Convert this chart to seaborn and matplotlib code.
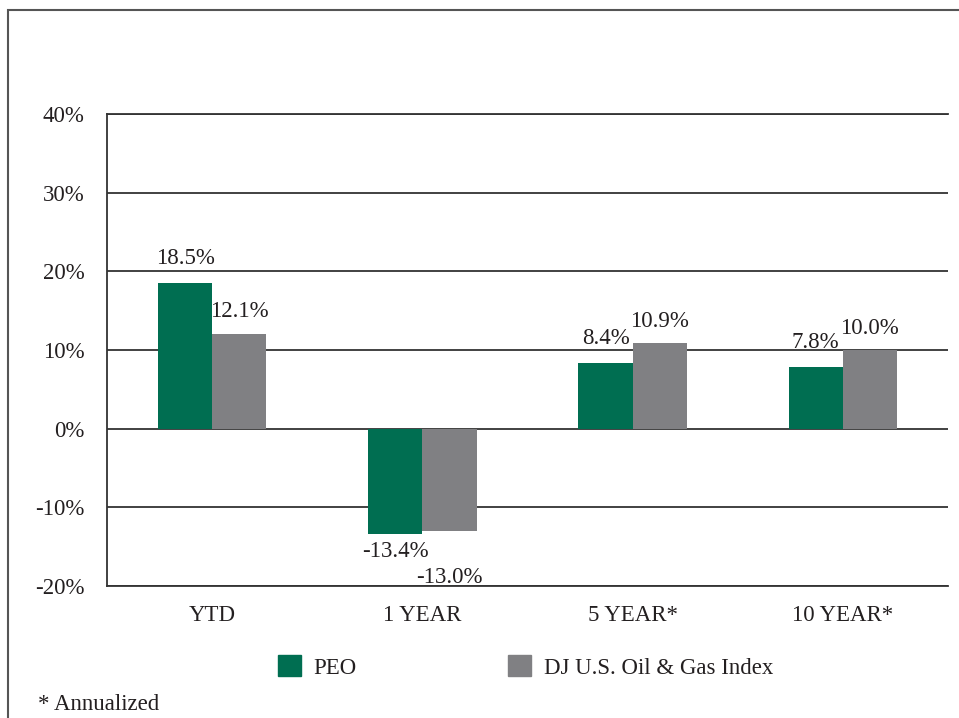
import numpy as np
import pandas as pd
import seaborn as sns
import matplotlib.pyplot as plt
from matplotlib.patches import Rectangle

periods = ['YTD', '1 YEAR', '5 YEAR*', '10 YEAR*']
series_names = ['PEO', 'DJ U.S. Oil & Gas Index']
peo = [18.5, -13.4, 8.4, 7.8]
dj_index = [12.1, -13.0, 10.9, 10.0]
y_ticks = [-20, -10, 0, 10, 20, 30, 40]

df = pd.DataFrame({
    'Period': periods * 2,
    'Series': [series_names[0]] * 4 + [series_names[1]] * 4,
    'Return': peo + dj_index,
})

sns.set_style('white')
plt.rcParams['font.family'] = ['Liberation Serif', 'DejaVu Serif']
plt.rcParams['font.size'] = 16

colors = ['#006e51', '#808083']
fig = plt.figure(figsize=(9.59, 7.18), dpi=100)
ax = fig.add_axes([0.1116, 0.1838, 0.8769, 0.6574])

sns.barplot(data=df, x='Period', y='Return', hue='Series', palette=colors,
            width=0.515, saturation=1, ax=ax, legend=False,
            edgecolor='none', linewidth=0)

ax.set_ylim(-20, 40)
ax.set_xlim(-0.5, 3.5)
ax.set_yticks(y_ticks)
ax.set_yticklabels([f'{t}%' for t in y_ticks])
ax.set_xlabel('')
ax.set_ylabel('')
ax.tick_params(axis='both', length=0, labelsize=16.5, colors='#231f20')
ax.tick_params(axis='y', pad=16)
ax.tick_params(axis='x', pad=14)
ax.grid(axis='y', color='#333333', linewidth=1.3)
ax.set_axisbelow(True)
for side in ['left', 'bottom', 'top']:
    ax.spines[side].set_color('#333333')
    ax.spines[side].set_linewidth(1.3)
ax.spines['right'].set_visible(False)

# value labels: PEO sits a bit higher than the index
for si, cont in enumerate(ax.containers):
    for bar in cont:
        v = bar.get_height()
        xc = bar.get_x() + bar.get_width() / 2
        if v >= 0:
            off, va = (10 if si == 0 else 8), 'bottom'
        else:
            off, va = (-5 if si == 0 else -26), 'top'
        ax.annotate(f'{v:.1f}%', (xc, v), xytext=(0, off), textcoords='offset points',
                    ha='center', va=va, fontsize=16.5, color='#231f20')

handles = [Rectangle((0, 0), 1, 1, color=c) for c in colors]
fig.legend(handles, series_names, loc='center', bbox_to_anchor=(0.548, 0.071),
           ncol=2, frameon=False, handlelength=1.0, handleheight=1.0,
           handletextpad=0.55, columnspacing=6.6, fontsize=16.5, labelcolor='#231f20')

fig.text(0.040, 0.004, '* Annualized', fontsize=16.5, color='#231f20', va='bottom', ha='left')

frame = Rectangle((0.0083, -0.05), 1.05, 1.036, transform=fig.transFigure,
                  fill=False, edgecolor='#555555', linewidth=1.5, clip_on=False)
fig.add_artist(frame)

fig.savefig('out.png', dpi=100)
